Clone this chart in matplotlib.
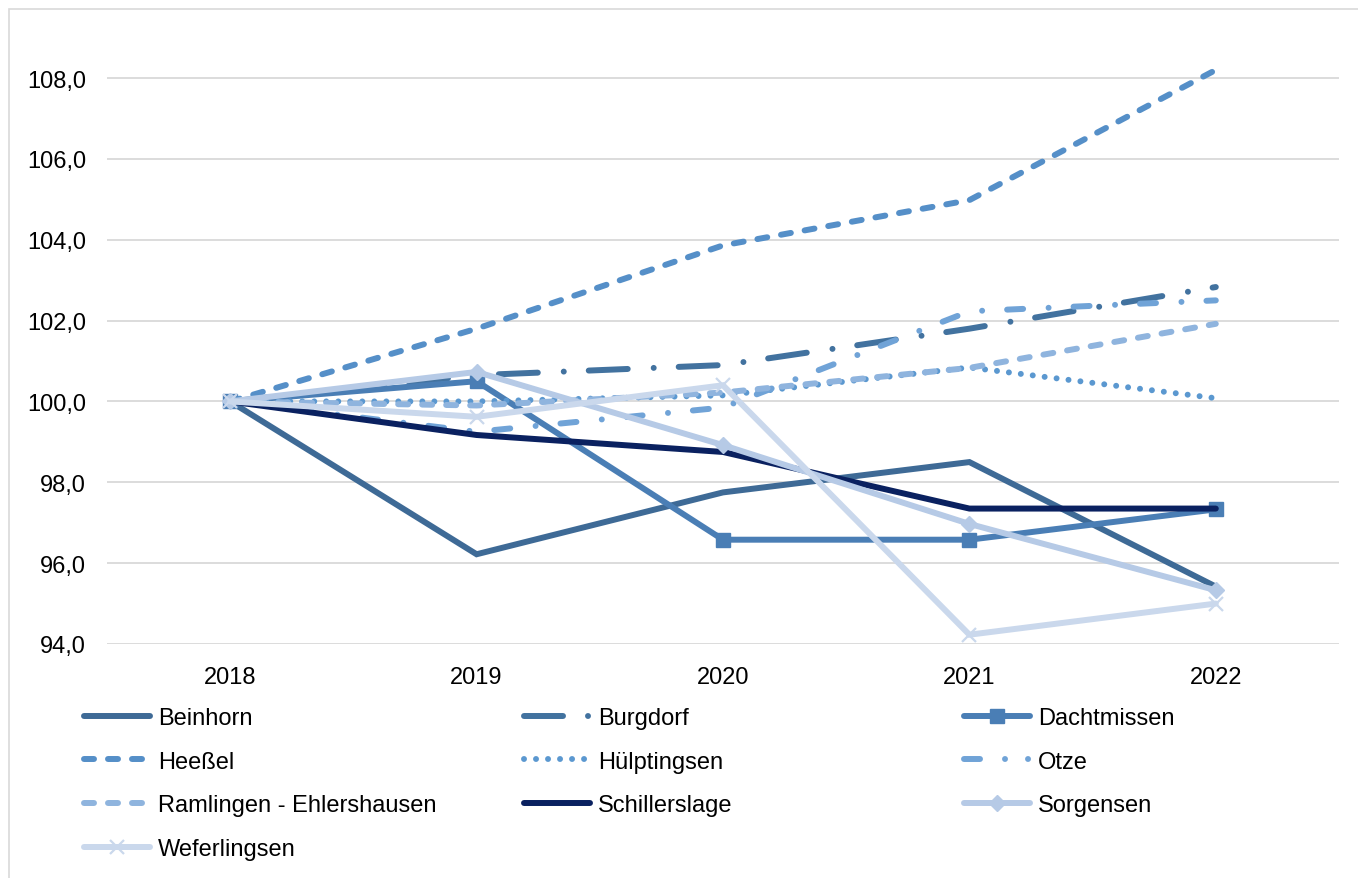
import matplotlib
matplotlib.use("Agg")
import matplotlib.pyplot as plt
from matplotlib.lines import Line2D
from matplotlib.patches import Rectangle
from matplotlib.ticker import FuncFormatter

plt.rcParams["font.family"] = ["Liberation Sans", "DejaVu Sans"]
plt.rcParams["lines.scale_dashes"] = False

years = ["2018", "2019", "2020", "2021", "2022"]

beinhorn = [100.0, 96.22, 97.75, 98.50, 95.42]
burgdorf = [100.0, 100.65, 100.90, 101.80, 102.83]
dachtmissen = [100.0, 100.50, 96.58, 96.58, 97.33]
heessel = [100.0, 101.80, 103.86, 104.98, 108.20]
huelptingsen = [100.0, 100.00, 100.15, 100.84, 100.08]
otze = [100.0, 99.25, 99.85, 102.23, 102.50]
ramlingen = [100.0, 99.90, 100.22, 100.83, 101.92]
schillerslage = [100.0, 99.17, 98.75, 97.35, 97.35]
sorgensen = [100.0, 100.73, 98.92, 96.97, 95.33]
weferlingsen = [100.0, 99.62, 100.40, 94.23, 95.00]

names = ["Beinhorn", "Burgdorf", "Dachtmissen", "Heeßel", "Hülptingsen", "Otze",
         "Ramlingen - Ehlershausen", "Schillerslage", "Sorgensen", "Weferlingsen"]
values = [beinhorn, burgdorf, dachtmissen, heessel, huelptingsen, otze,
          ramlingen, schillerslage, sorgensen, weferlingsen]
colors = ["#3E6A96", "#42729F", "#4A7EB5", "#558FC8", "#5B98D0", "#70A3D7",
          "#8FB4DE", "#0A2160", "#B6CAE6", "#CAD8EC"]

PX = 0.72  # points per pixel at dpi 100


def px(*seq):
    return [v * PX for v in seq]


solid = None
dash = px(10, 14)
long_dash_dot = px(39, 26, 0.01, 25)
dash_dot = px(16, 25.5, 0.01, 25)
round_dot = px(0.01, 12)

styles = [
    dict(dashes=solid, marker=None),
    dict(dashes=long_dash_dot, marker=None),
    dict(dashes=solid, marker="s", ms=10.5),
    dict(dashes=dash, marker=None),
    dict(dashes=round_dot, marker=None),
    dict(dashes=dash_dot, marker=None),
    dict(dashes=dash, marker=None),
    dict(dashes=solid, marker=None),
    dict(dashes=solid, marker="D", ms=8.5),
    dict(dashes=solid, marker="x", ms=10, mew=1.6),
]

LW = 4.3

fig = plt.figure(figsize=(13.58, 8.79), dpi=100)
ax = fig.add_axes([107 / 1358, (879 - 645) / 879, (1339 - 107) / 1358, (645 - 38.6) / 879])

xs = list(range(len(years)))
handles = []
for name, vals, col, st in zip(names, values, colors, styles):
    kw = dict(color=col, lw=LW, solid_capstyle="round", dash_capstyle="round",
              solid_joinstyle="miter", label=name)
    if st["marker"]:
        kw.update(marker=st["marker"], markersize=st["ms"],
                  markerfacecolor=col, markeredgecolor=col,
                  markeredgewidth=st.get("mew", 1.0))
    line, = ax.plot(xs, vals, **kw)
    if st["dashes"]:
        line.set_dashes(st["dashes"])
    h = Line2D([], [], **kw)
    if st["dashes"]:
        h.set_dashes(st["dashes"])
    handles.append(h)

# legend variants of the Burgdorf and Otze patterns
handles[1].set_dashes(px(39, 25, 0.01, 30))
handles[5].set_dashes(px(16, 25, 0.01, 23, 0.01, 30))

ax.set_xlim(-0.5, 4.5)
ax.set_ylim(94, 109)
ax.set_xticks(xs)
ax.set_xticklabels(years)
ax.set_yticks([94, 96, 98, 100, 102, 104, 106, 108])
ax.yaxis.set_major_formatter(FuncFormatter(lambda v, p: f"{v:.1f}".replace(".", ",")))
ax.tick_params(axis="both", length=0, labelsize=17, colors="#000000")
ax.tick_params(axis="y", pad=15)
ax.tick_params(axis="x", pad=16)
ax.grid(axis="y", color="#D9D9D9", lw=1.3)
ax.set_axisbelow(True)
for s in ax.spines.values():
    s.set_visible(False)

# outer chart frame
fig.patches.append(Rectangle((9 / 1358, -0.1), 1.2, 1.1 - 10 / 879, fill=False,
                             edgecolor="#D9D9D9", lw=1.2, transform=fig.transFigure))

# legend in three columns, filled row by row
cols_x = [84, 524, 964]
top = (879 - 708) / 879
for c in range(3):
    idx = list(range(c, len(names), 3))
    fig.legend([handles[i] for i in idx], [names[i] for i in idx],
               loc="upper left", bbox_to_anchor=(cols_x[c] / 1358, top),
               frameon=False, fontsize=17, handlelength=2.8, handletextpad=0.34,
               labelspacing=0.92, borderpad=0, borderaxespad=0, numpoints=1)

fig.savefig("out.png", dpi=100, facecolor="white")
